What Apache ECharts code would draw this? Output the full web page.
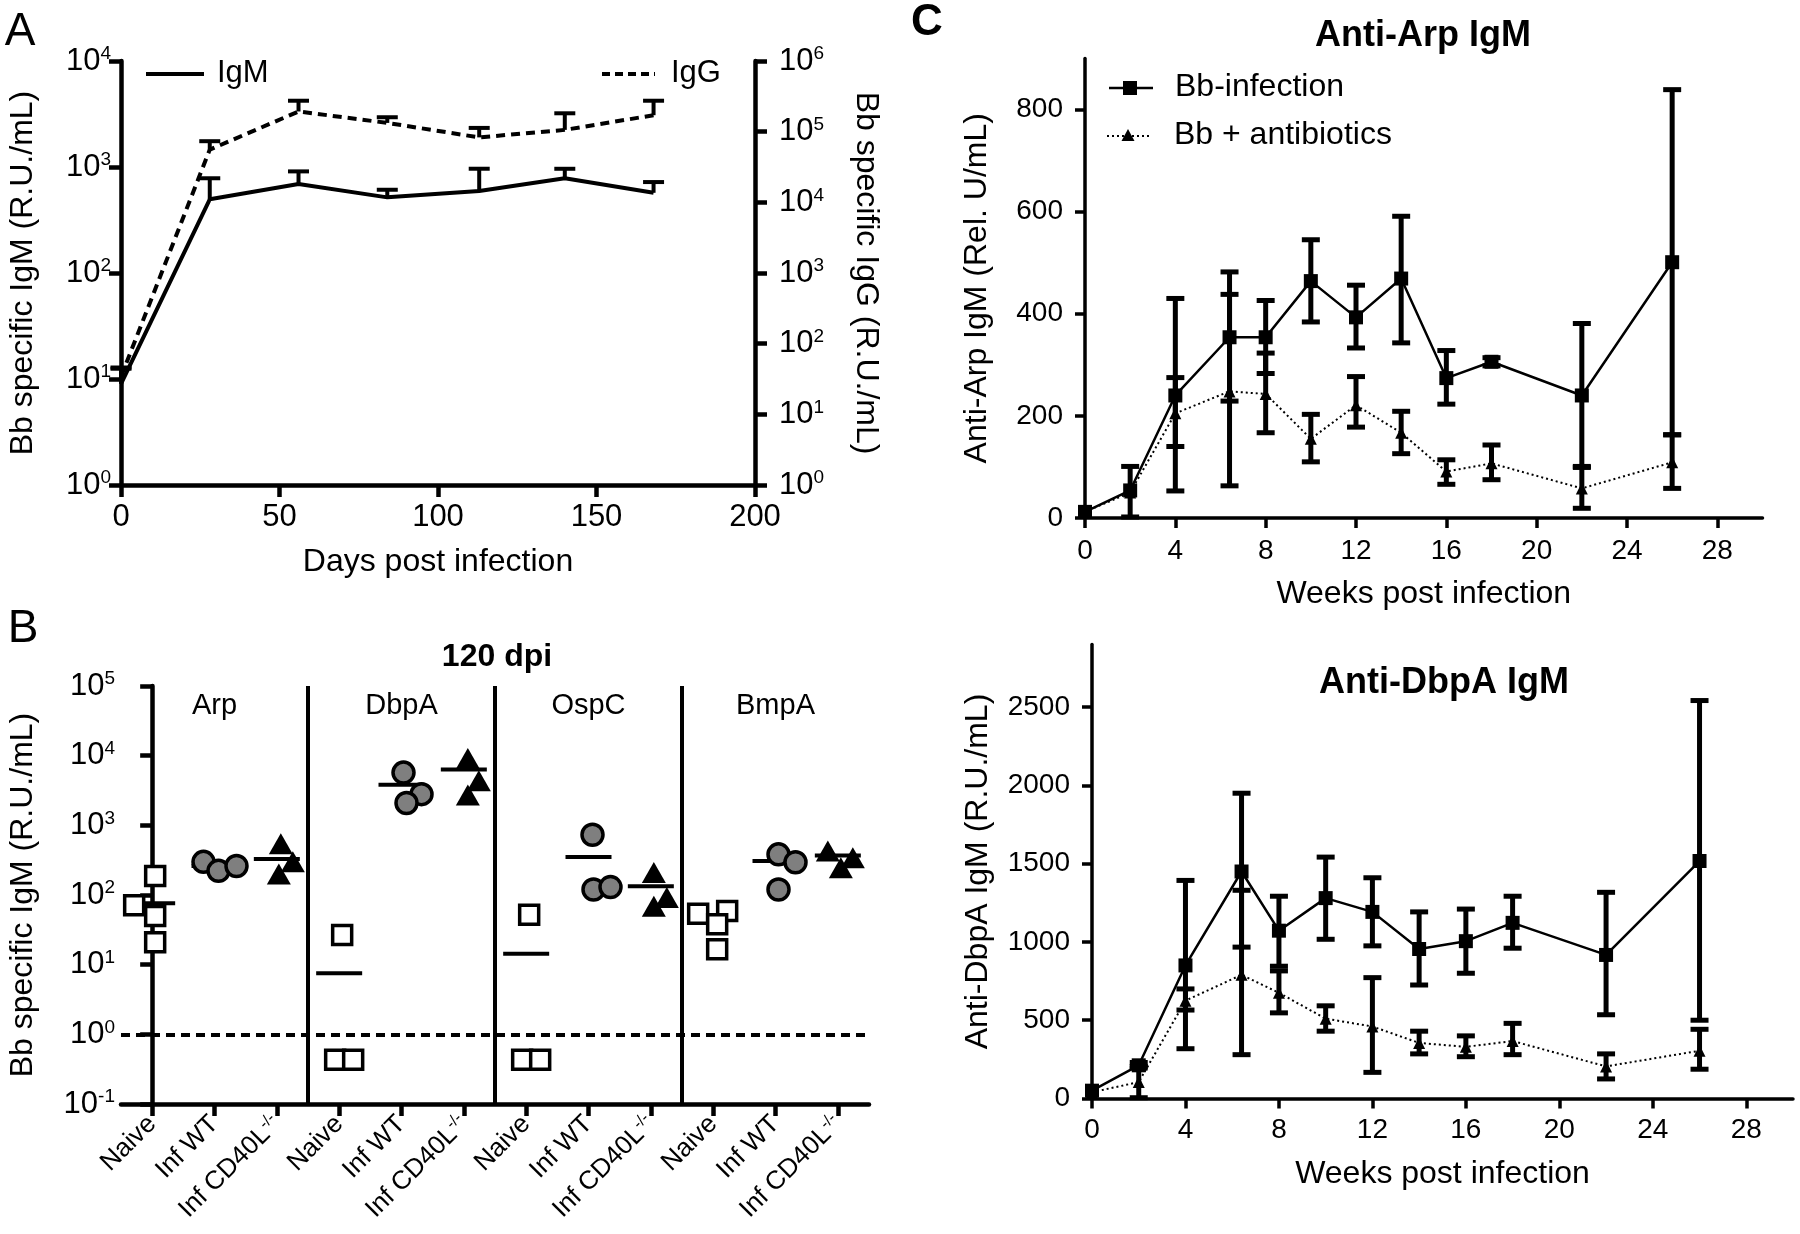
<!DOCTYPE html>
<html>
<head>
<meta charset="utf-8">
<script src="https://cdn.jsdelivr.net/npm/echarts@6/dist/echarts.min.js"></script>
<style>
  html, body { margin: 0; padding: 0; background: #fff; }
  #main { width: 1800px; height: 1234px; }
</style>
</head>
<body>
<div id="main"></div>
<script>
const FONT = '"Liberation Sans", Arial, Helvetica, sans-serif'

// ---- panel A: Bb specific IgM (left axis) / IgG (right axis) ----
const days = [0, 28, 56, 84, 113, 140, 168]
const igmMean = [9, 496, 692, 517, 595, 783, 571]
const igmUpper = [12.5, 783, 909, 610, 963, 962, 721]
const iggMean = [34, 55700, 193000, 133000, 83000, 106000, 171000]
const iggUpper = [46, 73300, 274000, 160000, 113000, 182000, 274000]

// ---- panel B: IgM per antigen at 120 dpi ----
const antigens = ['Arp', 'DbpA', 'OspC', 'BmpA']
const groupNames = ['Naive', 'Inf WT', 'Inf CD40L']
const naiveVals = [[187, 71, 50, 21], [26.7, 0.43, 0.43], [52, 0.43, 0.43], [54, 59, 38, 16.6]]
const wtVals = [[299, 222, 261], [5710, 2800, 2090], [733, 120, 130], [383, 295, 120]]
const cd40Vals = [[546, 299, 200], [9120, 4370, 2730], [211, 69, 92], [427, 343, 246]]
const naiveMeans = [76, 7.5, 14.4, 47]
const wtMeans = [260, 3820, 351, 307]
const cd40Means = [328, 6330, 134, 370]
const detectionLimit = 1

// ---- panel C: weeks post infection ----
const weeks = [0, 2, 4, 6.4, 8, 10, 12, 14, 16, 18, 22, 26]
const arpInf = [12, 54, 240, 354, 354, 464, 393, 469, 274, 306, 240, 501]
const arpInfLo = [null, 2, 53, 229, 283, 384, 333, 343, 223, 298, 99, 163]
const arpInfHi = [null, 101, 430, 482, 426, 545, 456, 591, 328, 314, 381, 839]
const arpAb = [12, 50, 205, 248, 243, 155, 221, 167, 91, 107, 58, 109]
const arpAbLo = [null, null, 140, 63, 167, 110, 178, 126, 66, 75, 19, 58]
const arpAbHi = [null, null, 275, 438, 323, 203, 277, 209, 114, 143, 101, 163]
const dbpInf = [50, 212, 850, 1450, 1072, 1280, 1192, 955, 1005, 1122, 917, 1517]
const dbpInfLo = [null, 195, 318, 967, 845, 1017, 975, 725, 800, 960, 535, 500]
const dbpInfHi = [null, 230, 1393, 1950, 1292, 1542, 1410, 1192, 1210, 1292, 1317, 2542]
const dbpAb = [40, 105, 625, 790, 675, 510, 460, 355, 330, 367, 205, 305]
const dbpAbLo = [null, 5, 565, 280, 547, 430, 167, 285, 267, 280, 125, 187]
const dbpAbHi = [null, 205, 700, 1330, 815, 592, 772, 430, 400, 480, 285, 442]

// horizontal jitter of the dots in panel B (px), purely cosmetic
const naiveJit = [[3, -18, 3, 3], [3, -4, 14], [3, -4, 14], [-15, 14, 4, 4]]
const wtJit = [[-11, 4, 22], [2, 20, 5], [4, 5, 22], [3, 20, 3]]
const cd40Jit = [[4, 16, 2], [4, 15, 4], [3, 3, 16], [-10, 15, 3]]

const chart = echarts.init(document.getElementById('main'))

const supRich = {
  sup: { fontSize: 19, fontFamily: FONT, color: '#000', padding: [0, 0, 14, 0] }
}
const logLabel = v => '10{sup|' + Math.round(Math.log10(v)) + '}'
const plainLabel = v => String(v)

function axisLine(w) {
  return { show: true, lineStyle: { color: '#000', width: w } }
}
function axisTick(len, w) {
  return { show: true, inside: false, length: len, lineStyle: { color: '#000', width: w } }
}

// error bars: [x, lo, hi], lo may equal the mean (upper bar only)
function errorSeries(name, xIdx, yIdx, data, capHalf, lw, bothCaps) {
  return {
    name: name,
    type: 'custom',
    xAxisIndex: xIdx,
    yAxisIndex: yIdx,
    silent: true,
    z: 3,
    encode: { x: 0, y: [1, 2] },
    data: data,
    renderItem: (params, api) => {
      const p = api.coord([api.value(0), api.value(1)])
      const q = api.coord([api.value(0), api.value(2)])
      const st = { stroke: '#000', lineWidth: lw }
      const kids = [
        { type: 'line', shape: { x1: p[0], y1: p[1], x2: q[0], y2: q[1] }, style: st },
        { type: 'line', shape: { x1: q[0] - capHalf, y1: q[1], x2: q[0] + capHalf, y2: q[1] }, style: st }
      ]
      if (bothCaps) {
        kids.push({ type: 'line', shape: { x1: p[0] - capHalf, y1: p[1], x2: p[0] + capHalf, y2: p[1] }, style: st })
      }
      return { type: 'group', children: kids }
    }
  }
}

function rangeData(lo, hi) {
  return weeks.map((w, i) => [w, lo[i], hi[i]]).filter(d => d[1] != null)
}

function dots(vals, jit, g) {
  const out = []
  vals.forEach((arr, a) => {
    arr.forEach((v, k) => {
      out.push({ value: [a * 3 + g, v], symbolOffset: [jit[a][k], 0] })
    })
  })
  return out
}

const meanData = []
antigens.forEach((a, i) => {
  meanData.push([i * 3, naiveMeans[i]], [i * 3 + 1, wtMeans[i]], [i * 3 + 2, cd40Means[i]])
})

const catIds = []
antigens.forEach(a => groupNames.forEach(g => catIds.push(a + ':' + g)))

const option = {
  animation: false,
  backgroundColor: '#fff',
  textStyle: { fontFamily: FONT, color: '#000' },
  grid: [
    { left: 121, top: 61, width: 634, height: 424 },
    { left: 121, top: 686, width: 748, height: 418 },
    { left: 1085, top: 58.5, width: 677.5, height: 459.5 },
    { left: 1092, top: 644.5, width: 701, height: 454 }
  ],
  xAxis: [
    {
      gridIndex: 0, type: 'value', min: 0, max: 200, interval: 50,
      name: 'Days post infection', nameLocation: 'middle', nameGap: 61,
      nameTextStyle: { fontSize: 32, fontFamily: FONT, color: '#000' },
      axisLine: axisLine(4.5), axisTick: axisTick(12, 4.5),
      axisLabel: { fontSize: 31, fontFamily: FONT, color: '#000', margin: 17 },
      splitLine: { show: false }
    },
    {
      gridIndex: 1, type: 'category', data: catIds,
      axisLine: axisLine(4.5),
      axisTick: Object.assign(axisTick(12, 4.5), { alignWithLabel: true }),
      axisLabel: {
        interval: 0, rotate: 45, fontSize: 26, fontFamily: FONT, color: '#000', margin: 16,
        formatter: v => {
          const g = v.split(':')[1]
          return g === 'Inf CD40L' ? 'Inf CD40L{sup|-/-}' : g
        },
        rich: { sup: { fontSize: 16, fontFamily: FONT, color: '#000', padding: [0, 0, 12, 0] } }
      },
      splitLine: { show: false }
    },
    {
      gridIndex: 1, type: 'value', min: -0.5, max: 11.5, show: false
    },
    {
      gridIndex: 2, type: 'value', min: 0, max: 30, interval: 4,
      name: 'Weeks post infection', nameLocation: 'middle', nameGap: 60,
      nameTextStyle: { fontSize: 32, fontFamily: FONT, color: '#000' },
      axisLine: axisLine(3.5),
      axisTick: Object.assign(axisTick(10, 3.5), { customValues: [0, 4, 8, 12, 16, 20, 24, 28] }),
      axisLabel: { fontSize: 28, fontFamily: FONT, color: '#000', margin: 19, formatter: plainLabel, customValues: [0, 4, 8, 12, 16, 20, 24, 28] },
      splitLine: { show: false }
    },
    {
      gridIndex: 3, type: 'value', min: 0, max: 30, interval: 4,
      name: 'Weeks post infection', nameLocation: 'middle', nameGap: 60,
      nameTextStyle: { fontSize: 32, fontFamily: FONT, color: '#000' },
      axisLine: axisLine(3.5),
      axisTick: Object.assign(axisTick(10, 3.5), { customValues: [0, 4, 8, 12, 16, 20, 24, 28] }),
      axisLabel: { fontSize: 28, fontFamily: FONT, color: '#000', margin: 18, formatter: plainLabel, customValues: [0, 4, 8, 12, 16, 20, 24, 28] },
      splitLine: { show: false }
    }
  ],
  yAxis: [
    {
      gridIndex: 0, type: 'log', logBase: 10, min: 1, max: 10000,
      name: 'Bb specific IgM (R.U./mL)', nameLocation: 'middle', nameGap: 82, nameRotate: 90,
      nameTextStyle: { fontSize: 32, fontFamily: FONT, color: '#000' },
      axisLine: axisLine(4.5), axisTick: axisTick(12, 4.5),
      axisLabel: { fontSize: 31, fontFamily: FONT, color: '#000', margin: 10, formatter: logLabel, rich: supRich },
      splitLine: { show: false }, minorTick: { show: false }
    },
    {
      gridIndex: 0, type: 'log', logBase: 10, min: 1, max: 1000000, position: 'right',
      name: 'Bb specific IgG (R.U./mL)', nameLocation: 'middle', nameGap: 95, nameRotate: -90,
      nameTextStyle: { fontSize: 32, fontFamily: FONT, color: '#000' },
      axisLine: axisLine(4.5), axisTick: axisTick(12, 4.5),
      axisLabel: { fontSize: 31, fontFamily: FONT, color: '#000', margin: 24, formatter: logLabel, rich: supRich },
      splitLine: { show: false }, minorTick: { show: false }
    },
    {
      gridIndex: 1, type: 'log', logBase: 10, min: 0.1, max: 100000,
      name: 'Bb specific IgM (R.U./mL)', nameLocation: 'middle', nameGap: 82, nameRotate: 90,
      nameTextStyle: { fontSize: 32, fontFamily: FONT, color: '#000' },
      axisLine: axisLine(4.5), axisTick: axisTick(12, 4.5),
      axisLabel: { fontSize: 31, fontFamily: FONT, color: '#000', margin: 6, formatter: logLabel, rich: supRich },
      splitLine: { show: false }, minorTick: { show: false }
    },
    {
      gridIndex: 2, type: 'value', min: 0, max: 900, interval: 200,
      name: 'Anti-Arp IgM (Rel. U/mL)', nameLocation: 'middle', nameGap: 92, nameRotate: 90,
      nameTextStyle: { fontSize: 32, fontFamily: FONT, color: '#000' },
      axisLine: axisLine(3.5),
      axisTick: Object.assign(axisTick(10, 3.5), { customValues: [0, 200, 400, 600, 800] }),
      axisLabel: { fontSize: 28, fontFamily: FONT, color: '#000', margin: 22, formatter: plainLabel, customValues: [0, 200, 400, 600, 800] },
      splitLine: { show: false }
    },
    {
      gridIndex: 3, type: 'value', min: 0, max: 2900, interval: 500,
      name: 'Anti-DbpA IgM (R.U./mL)', nameLocation: 'middle', nameGap: 98, nameRotate: 90,
      nameTextStyle: { fontSize: 32, fontFamily: FONT, color: '#000' },
      axisLine: axisLine(3.5),
      axisTick: Object.assign(axisTick(10, 3.5), { customValues: [0, 500, 1000, 1500, 2000, 2500] }),
      axisLabel: { fontSize: 28, fontFamily: FONT, color: '#000', margin: 22, formatter: plainLabel, customValues: [0, 500, 1000, 1500, 2000, 2500] },
      splitLine: { show: false }
    }
  ],
  series: [
    // panel A
    {
      name: 'IgM', type: 'line', xAxisIndex: 0, yAxisIndex: 0, symbol: 'none', z: 4,
      lineStyle: { color: '#000', width: 4 },
      data: days.map((d, i) => [d, igmMean[i]])
    },
    errorSeries('IgM err', 0, 0, days.map((d, i) => [d, igmMean[i], igmUpper[i]]), 10.5, 4, false),
    {
      name: 'IgG', type: 'line', xAxisIndex: 0, yAxisIndex: 1, symbol: 'none', z: 4,
      lineStyle: { color: '#000', width: 4, type: [9, 6] },
      data: days.map((d, i) => [d, iggMean[i]])
    },
    errorSeries('IgG err', 0, 1, days.map((d, i) => [d, iggMean[i], iggUpper[i]]), 10.5, 4, false),

    // panel B
    {
      name: 'means', type: 'custom', xAxisIndex: 2, yAxisIndex: 2, z: 2, silent: true,
      data: meanData,
      renderItem: (params, api) => {
        const p = api.coord([api.value(0), api.value(1)])
        return {
          type: 'line',
          shape: { x1: p[0] - 23, y1: p[1], x2: p[0] + 23, y2: p[1] },
          style: { stroke: '#000', lineWidth: 4 }
        }
      },
      markLine: {
        silent: true, symbol: ['none', 'none'], label: { show: false },
        lineStyle: { color: '#000', width: 4, type: 'solid' },
        data: [
          { xAxis: 2.5 }, { xAxis: 5.5 }, { xAxis: 8.5 },
          { yAxis: detectionLimit, lineStyle: { type: [9, 6], width: 4 } }
        ]
      }
    },
    {
      name: 'antigen labels', type: 'custom', xAxisIndex: 2, yAxisIndex: 2, silent: true,
      data: antigens.map((a, i) => [i * 3 + 1, 100000]),
      renderItem: (params, api) => {
        const p = api.coord([api.value(0), api.value(1)])
        return {
          type: 'text', x: p[0], y: p[1] + 20,
          style: { text: antigens[params.dataIndex], fontSize: 29, fontFamily: FONT, fill: '#000', align: 'center', verticalAlign: 'middle' }
        }
      }
    },
    {
      name: 'Naive', type: 'scatter', xAxisIndex: 2, yAxisIndex: 2, z: 5,
      symbol: 'rect', symbolSize: 19,
      itemStyle: { color: '#fff', borderColor: '#000', borderWidth: 3.5, opacity: 1 },
      data: dots(naiveVals, naiveJit, 0)
    },
    {
      name: 'Inf WT', type: 'scatter', xAxisIndex: 2, yAxisIndex: 2, z: 5,
      symbol: 'circle', symbolSize: 21,
      itemStyle: { color: '#7f7f7f', borderColor: '#000', borderWidth: 3.5, opacity: 1 },
      data: dots(wtVals, wtJit, 1)
    },
    {
      name: 'Inf CD40L', type: 'scatter', xAxisIndex: 2, yAxisIndex: 2, z: 5,
      symbol: 'triangle', symbolSize: [24, 21],
      itemStyle: { color: '#000', opacity: 1 },
      data: dots(cd40Vals, cd40Jit, 2)
    },

    // panel C, Arp
    errorSeries('arp inf err', 3, 3, rangeData(arpInfLo, arpInfHi), 9, 5, true),
    errorSeries('arp ab err', 3, 3, rangeData(arpAbLo, arpAbHi), 9, 5, true),
    {
      name: 'Bb-infection', type: 'line', xAxisIndex: 3, yAxisIndex: 3, z: 4,
      symbol: 'rect', symbolSize: 14,
      lineStyle: { color: '#000', width: 2.5 }, itemStyle: { color: '#000' },
      data: weeks.map((w, i) => [w, arpInf[i]])
    },
    {
      name: 'Bb + antibiotics', type: 'line', xAxisIndex: 3, yAxisIndex: 3, z: 4,
      symbol: 'triangle', symbolSize: 12,
      lineStyle: { color: '#000', width: 2, type: [2, 3] }, itemStyle: { color: '#000' },
      data: weeks.map((w, i) => [w, arpAb[i]])
    },

    // panel C, DbpA
    errorSeries('dbp inf err', 4, 4, rangeData(dbpInfLo, dbpInfHi), 9, 5, true),
    errorSeries('dbp ab err', 4, 4, rangeData(dbpAbLo, dbpAbHi), 9, 5, true),
    {
      name: 'Bb-infection', type: 'line', xAxisIndex: 4, yAxisIndex: 4, z: 4,
      symbol: 'rect', symbolSize: 14,
      lineStyle: { color: '#000', width: 2.5 }, itemStyle: { color: '#000' },
      data: weeks.map((w, i) => [w, dbpInf[i]])
    },
    {
      name: 'Bb + antibiotics', type: 'line', xAxisIndex: 4, yAxisIndex: 4, z: 4,
      symbol: 'triangle', symbolSize: 12,
      lineStyle: { color: '#000', width: 2, type: [2, 3] }, itemStyle: { color: '#000' },
      data: weeks.map((w, i) => [w, dbpAb[i]])
    }
  ],
  graphic: {
    elements: [
      // panel letters and titles
      { type: 'text', x: 20, y: 32, style: { text: 'A', font: '46px ' + FONT, fill: '#000', align: 'center', verticalAlign: 'middle' } },
      { type: 'text', x: 23, y: 629, style: { text: 'B', font: '46px ' + FONT, fill: '#000', align: 'center', verticalAlign: 'middle' } },
      { type: 'text', x: 927, y: 23, style: { text: 'C', font: 'bold 44px ' + FONT, fill: '#000', align: 'center', verticalAlign: 'middle' } },
      { type: 'text', x: 497, y: 657, style: { text: '120 dpi', font: 'bold 32px ' + FONT, fill: '#000', align: 'center', verticalAlign: 'middle' } },
      { type: 'text', x: 1423, y: 36, style: { text: 'Anti-Arp IgM', font: 'bold 36px ' + FONT, fill: '#000', align: 'center', verticalAlign: 'middle' } },
      { type: 'text', x: 1444, y: 683, style: { text: 'Anti-DbpA IgM', font: 'bold 36px ' + FONT, fill: '#000', align: 'center', verticalAlign: 'middle' } },

      // panel A legend
      { type: 'line', shape: { x1: 146, y1: 74, x2: 204, y2: 74 }, style: { stroke: '#000', lineWidth: 4 } },
      { type: 'text', x: 217, y: 73, style: { text: 'IgM', font: '31px ' + FONT, fill: '#000', align: 'left', verticalAlign: 'middle' } },
      { type: 'line', shape: { x1: 602, y1: 74, x2: 655, y2: 74 }, style: { stroke: '#000', lineWidth: 4, lineDash: [8, 5] } },
      { type: 'text', x: 671, y: 73, style: { text: 'IgG', font: '31px ' + FONT, fill: '#000', align: 'left', verticalAlign: 'middle' } },

      // panel C legend
      { type: 'line', shape: { x1: 1109, y1: 88, x2: 1153, y2: 88 }, style: { stroke: '#000', lineWidth: 2.5 } },
      { type: 'rect', shape: { x: 1123, y: 81, width: 14, height: 14 }, style: { fill: '#000' } },
      { type: 'text', x: 1175, y: 87, style: { text: 'Bb-infection', font: '32px ' + FONT, fill: '#000', align: 'left', verticalAlign: 'middle' } },
      { type: 'line', shape: { x1: 1107, y1: 136, x2: 1149, y2: 136 }, style: { stroke: '#000', lineWidth: 2, lineDash: [2, 3] } },
      { type: 'polygon', shape: { points: [[1128, 129], [1134.5, 141], [1121.5, 141]] }, style: { fill: '#000' } },
      { type: 'text', x: 1174, y: 135, style: { text: 'Bb + antibiotics', font: '32px ' + FONT, fill: '#000', align: 'left', verticalAlign: 'middle' } }
    ]
  }
}

chart.setOption(option)
</script>
</body>
</html>
